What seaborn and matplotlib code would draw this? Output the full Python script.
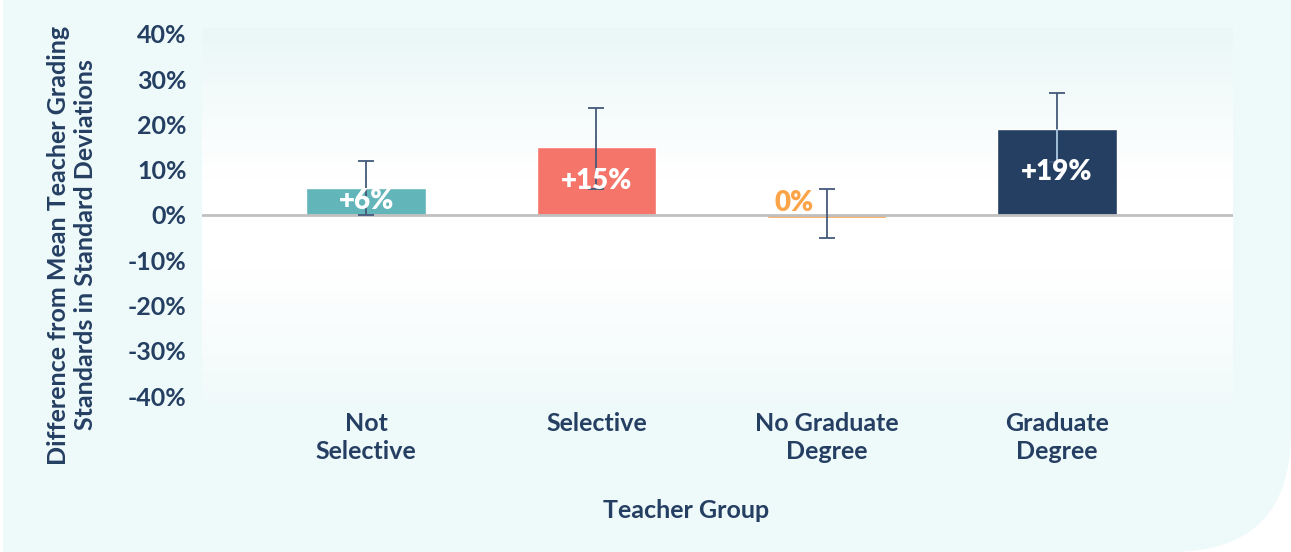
import matplotlib
matplotlib.use("Agg")
import matplotlib.pyplot as plt
from matplotlib.patches import FancyBboxPatch, Rectangle
from matplotlib.transforms import IdentityTransform
import seaborn as sns
import numpy as np
import pandas as pd

# values
groups = ["Not\nSelective", "Selective", "No Graduate\nDegree", "Graduate\nDegree"]
diff = [0.06, 0.15, -0.006, 0.19]
err_low = [0.0, 0.057, -0.051, 0.118]
err_high = [0.12, 0.236, 0.058, 0.269]
bar_labels = ["+6%", "+15%", "0%", "+19%"]
colors = ["#62B5B8", "#F5756B", "#FBA44A", "#253F63"]
yticks = [-0.4, -0.3, -0.2, -0.1, 0.0, 0.1, 0.2, 0.3, 0.4]

navy = "#253F63"
mint = "#EEF9F9"

sns.set_theme(style="white")
plt.rcParams["font.family"] = ["Lato", "DejaVu Sans"]
plt.rcParams["font.weight"] = "bold"

W, H = 1291, 552
fig = plt.figure(figsize=(W / 100, H / 100), dpi=100)
fig.patch.set_facecolor("white")

# mint card with rounded bottom-right corner (pixel coords)
card = FancyBboxPatch((-400, 0), W + 400, H + 400,
                      boxstyle="round,pad=0,rounding_size=120",
                      transform=IdentityTransform(), facecolor=mint,
                      edgecolor="none", zorder=-10)
fig.patches.append(card)
fig.patches.append(Rectangle((0, 0), 3, H, transform=IdentityTransform(),
                             facecolor="white", edgecolor="none", zorder=-9))

ax = fig.add_axes([202 / W, 1 - 402 / H, (1233 - 202) / W, (402 - 28) / H])
ax.patch.set_alpha(0)

df = pd.DataFrame({"group": groups, "diff": diff})
sns.barplot(data=df, x="group", y="diff", hue="group", palette=colors,
            width=0.52, legend=False, errorbar=None, ax=ax, zorder=2,
            saturation=1)

ylo, yhi = -0.413, 0.413
xlo, xhi = -0.713, 3.765
ax.set_xlim(xlo, xhi)
ax.set_ylim(ylo, yhi)

# soft vertical gradient behind the plot
t = np.linspace(0, 1, 200)
top = np.array([0.918, 0.969, 0.969])
wht = np.array([1.0, 1.0, 1.0])
bot = np.array([0.945, 0.980, 0.980])
w_top = np.clip((t - 0.6) / 0.4, 0, 1)[:, None]
w_bot = np.clip((0.35 - t) / 0.35, 0, 1)[:, None]
grad = wht * (1 - w_top - w_bot) + top * w_top + bot * w_bot
ax.imshow(grad[:, None, :], extent=[xlo, xhi, ylo, yhi], origin="lower",
          aspect="auto", zorder=0)

ax.axhline(0, color="#C0C0C0", lw=2, zorder=3)

xs = np.arange(len(groups))
d = np.array(diff)
yerr = np.vstack([d - np.array(err_low), np.array(err_high) - d])
ax.errorbar(xs, d, yerr=yerr, fmt="none", ecolor="#44597A", elinewidth=1.3,
            capsize=6, capthick=1.3, zorder=4)

# lighter whisker where it crosses the dark bar
bars = ax.patches
ln = ax.vlines(xs[3], err_low[3], err_high[3], color="#A9C8DD", lw=1.3, zorder=5)
ln.set_clip_path(bars[3])

for i, lab in enumerate(bar_labels):
    if diff[i] > 0.01:
        ax.text(xs[i], diff[i] / 2, lab, ha="center", va="center", color="white",
                fontsize=20, fontweight="heavy", zorder=6)
    else:
        ax.text(xs[i] - 0.14, 0.027, lab, ha="center", va="center", color=colors[i],
                fontsize=20, fontweight="heavy", zorder=6)

ax.set_yticks(yticks)
ax.set_yticklabels([f"{int(round(v * 100))}%" for v in yticks])
ax.tick_params(axis="y", length=0, pad=11, labelsize=18, labelcolor=navy)
ax.tick_params(axis="x", length=0, pad=7, labelsize=18, labelcolor=navy)
for lab in ax.get_xticklabels():
    lab.set_linespacing(1.27)
    lab.set_fontweight("bold")
for lab in ax.get_yticklabels():
    lab.set_fontweight("bold")
for s in ax.spines.values():
    s.set_visible(False)
ax.set_xlabel("")
ax.set_ylabel("")

fig.text(72 / W, 1 - 245 / H,
         "Difference from Mean Teacher Grading\nStandards in Standard Deviations",
         rotation=90, ha="center", va="center", fontsize=18, color=navy,
         fontweight="bold", linespacing=1.2)
fig.text(686 / W, 1 - 510 / H, "Teacher Group", ha="center", va="center",
         fontsize=18, color=navy, fontweight="bold")

fig.savefig("out.png", dpi=100, facecolor=fig.get_facecolor())
